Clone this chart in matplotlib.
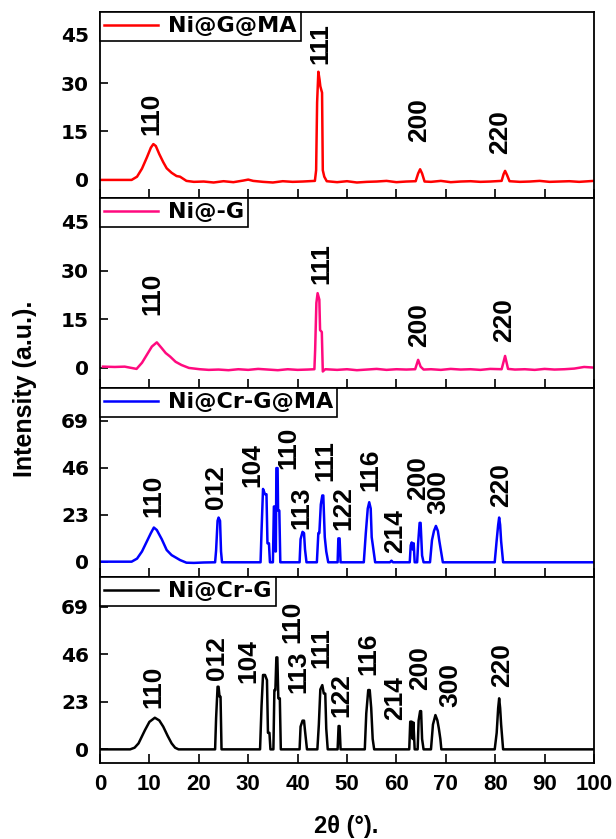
import matplotlib
matplotlib.use("Agg")
import matplotlib.pyplot as plt

# --- XRD traces, (2theta, intensity) vertices ---
ni_g_ma_x = [0.3, 6.4, 7.5, 8.5, 9.5, 10.3, 10.8, 11.3, 12.0, 12.8, 13.5, 14.5, 15.5,
             16.2, 17.5, 19, 21, 23, 25, 27, 29, 30, 31, 33, 35, 37, 39, 41, 43.5,
             43.75, 43.95, 44.2, 44.45, 44.6, 44.95, 45.1, 45.4, 45.9, 48, 50, 52, 54, 56, 58,
             60, 62, 63.9, 64.4, 64.8, 65.2, 65.7, 67, 69, 71, 73, 75, 77, 79, 81.3,
             81.7, 82.0, 82.4, 82.9, 85, 87, 89, 91, 93, 95, 97, 100]
ni_g_ma_y = [0, 0, 1.0, 3.5, 7.0, 10.0, 11.1, 10.5, 8.0, 5.5, 3.6, 2.2, 1.2,
             1.0, -0.3, -0.6, -0.5, -0.8, -0.4, -0.7, -0.2, 0.1, -0.3, -0.6, -0.8, -0.4, -0.6, -0.5, -0.3,
             3.0, 24.0, 33.5, 31.0, 29.0, 27.0, 3.0, 1.0, -0.4, -0.7, -0.4, -0.8, -0.6, -0.5, -0.3,
             -0.7, -0.5, -0.4, 2.0, 3.3, 2.0, -0.5, -0.6, -0.3, -0.7, -0.5, -0.4, -0.6, -0.5, -0.3,
             1.8, 2.8, 1.5, -0.4, -0.6, -0.5, -0.3, -0.6, -0.5, -0.4, -0.6, -0.3]

ni_g_x = [0.6, 3, 5, 7.4, 8.5, 9.5, 10.5, 11.5, 12.5, 13.3, 14.2, 15.3, 16.5, 18.0,
          20.2, 22, 24, 26, 28, 30, 32, 34, 36, 38, 40, 42, 43.4, 43.55, 43.8, 44.05,
          44.4, 44.55, 44.9, 45.1, 45.6, 48, 50, 52, 54, 56, 58, 60, 62, 63.8, 64.4, 64.9,
          65.5, 67, 69, 71, 73, 75, 77, 79, 81.3, 82.0, 82.6, 84, 86, 88, 90, 92, 94,
          96, 98, 100]
ni_g_y = [0.3, 0.2, 0.3, -0.4, 1.5, 4.0, 6.5, 7.8, 6.0, 4.5, 3.4, 1.8, 0.8, -0.1,
          -0.5, -0.7, -0.6, -0.8, -0.5, -0.7, -0.4, -0.6, -0.8, -0.5, -0.7, -0.6, -0.5, 5.4, 20.0, 23.0,
          21.0, 11.6, 11.0, -1.2, -0.5, -0.7, -0.5, -0.8, -0.6, -0.4, -0.7, -0.5, -0.6, -0.5, 2.4, 0.3,
          -0.6, -0.5, -0.7, -0.4, -0.6, -0.5, -0.7, -0.4, -0.5, 3.6, -0.4, -0.6, -0.5, -0.7, -0.4, -0.6,
          -0.5, -0.3, 0.2, 0.0]

ni_cr_g_ma_x = [0.3, 6.4, 7.5, 8.5, 9.5, 10.3, 10.9, 11.5, 12.5, 13.5, 14.5, 15.5, 16.2,
                17.5, 19, 21, 23.3, 23.5, 23.8, 24.0, 24.3, 24.5, 24.7, 32.5, 32.7, 33.0,
                33.4, 33.7, 33.9, 34.2, 34.4, 35.0, 35.2, 35.4, 35.5, 35.6, 35.7, 35.95,
                36.05, 36.3, 36.5, 40.4, 40.6, 41.0, 41.3, 41.5, 41.8, 43.9, 44.2, 44.4,
                44.7, 45.0, 45.2, 45.5, 45.8, 46.2, 48.1, 48.25, 48.5, 48.7, 53.4, 53.8,
                54.2, 54.5, 54.8, 55.0, 55.7, 58.7, 59.0, 59.3, 62.7, 62.9, 63.1, 63.3,
                63.5, 63.7, 64.2, 64.4, 64.7, 64.9, 65.2, 65.5, 66.8, 67.2, 67.6, 68.0,
                68.4, 68.7, 69.4, 79.9, 80.3, 80.6, 80.8, 81.0, 81.2, 81.6, 100]
ni_cr_g_ma_y = [0, 0, 1.5, 5.0, 10.0, 14.0, 16.7, 15.5, 11.0, 5.7, 3.2, 1.8, 0.8,
                -0.5, -0.6, -0.4, -0.3, 5.5, 20.0, 21.6, 20.0, 5.0, -0.3, -0.3, 15.0, 35.6,
                33.0, 33.0, 9.0, 9.0, -0.3, -0.3, 27.0, 27.0, 5.0, 5.0, 45.8, 45.8,
                25.0, 25.0, -0.3, -0.3, 11.0, 14.6, 14.0, 6.0, -0.3, -0.3, 14.0, 14.0,
                28.0, 32.4, 32.4, 12.0, 5.0, -0.3, -0.3, 11.4, 11.4, -0.3, -0.3, 13.8,
                26.0, 29.1, 26.0, 12.0, -0.3, -0.3, 0.5, -0.3, -0.3, 8.0, 9.4, 6.0,
                9.0, -0.3, -0.3, 9.0, 19.0, 19.0, 3.0, -0.3, -0.3, 10.5, 15.0, 17.5,
                15.0, 10.0, -0.3, -0.3, 10.5, 18.0, 21.6, 18.0, 10.0, -0.3, -0.3]

ni_cr_g_x = [0.3, 6.1, 7.0, 7.8, 9.1, 10.0, 11.1, 12.0, 12.8, 13.7, 14.5, 15.2, 15.9,
             23.3, 23.5, 23.8, 24.0, 24.2, 24.4, 24.6, 32.4, 32.7, 33.0, 33.4, 33.8,
             34.0, 34.3, 34.5, 35.1, 35.3, 35.5, 35.7, 35.9, 36.1, 36.4, 36.6, 40.4,
             40.6, 41.0, 41.3, 41.5, 41.9, 44.0, 44.3, 44.6, 45.0, 45.3, 45.6, 45.8,
             46.1, 48.1, 48.3, 48.5, 48.7, 53.6, 53.9, 54.3, 54.6, 54.9, 55.2, 55.5,
             62.6, 62.8, 63.1, 63.3, 63.45, 63.7, 64.3, 64.5, 64.8, 65.0, 65.2, 65.5,
             67.0, 67.4, 67.9, 68.3, 68.6, 68.9, 69.1, 79.9, 80.3, 80.6, 80.8, 81.0,
             81.2, 81.6, 100]
ni_cr_g_y = [0, 0, 0.8, 2.9, 9.3, 13.3, 15.3, 14.0, 11.0, 6.5, 2.9, 0.8, 0,
             0, 15.0, 30.3, 30.3, 25.5, 25.5, 0, 0, 21.0, 36.0, 36.0, 33.5,
             8.0, 8.0, 0, 0, 28.7, 28.7, 44.5, 44.5, 24.7, 24.7, 0, 0,
             11.0, 13.9, 13.9, 9.0, 0, 0, 12.0, 29.0, 31.1, 27.0, 27.0, 10.0,
             0, 0, 11.3, 11.3, 0, 0, 17.4, 28.7, 28.7, 20.0, 5.0, 0,
             0, 13.4, 13.4, 5.0, 13.0, 0, 0, 14.0, 18.5, 18.5, 5.0, 0,
             0, 12.0, 16.6, 14.0, 10.0, 5.0, 0, 0, 8.0, 20.0, 24.7, 20.0,
             12.0, 0, 0]

# --- Miller index annotations: text, x position, y of label base ---
p1_hkl = ["110", "111", "200", "220"]
p1_hkl_x = [10.5, 44.7, 64.7, 81.0]
p1_hkl_y = [13.9, 36.0, 11.8, 8.0]

p2_hkl = ["110", "111", "200", "220"]
p2_hkl_x = [10.7, 44.8, 64.7, 81.8]
p2_hkl_y = [16.3, 25.8, 6.5, 8.0]

p3_hkl = ["110", "012", "104", "110", "113", "111", "122", "116", "214", "200", "300", "220"]
p3_hkl_x = [10.8, 23.5, 30.9, 38.2, 40.8, 45.7, 49.2, 54.7, 59.7, 64.3, 68.5, 81.3]
p3_hkl_y = [21.9, 25.9, 36.4, 45.3, 16.2, 39.7, 15.4, 34.8, 4.1, 30.0, 23.5, 27.0]

p4_hkl = ["110", "012", "104", "110", "113", "111", "122", "116", "214", "200", "300", "220"]
p4_hkl_x = [10.9, 23.7, 30.0, 39.0, 40.2, 44.8, 48.9, 54.3, 59.7, 64.8, 70.9, 81.4]
p4_hkl_y = [19.8, 33.6, 32.0, 51.3, 27.1, 39.2, 15.8, 36.0, 14.2, 28.7, 20.3, 30.0]

p1_ticks = [0, 15, 30, 45]
p2_ticks = [0, 15, 30, 45]
p3_ticks = [0, 23, 46, 69]
p4_ticks = [0, 23, 46, 69]
x_ticks = [0, 10, 20, 30, 40, 50, 60, 70, 80, 90, 100]

panels = [
    dict(x=ni_g_ma_x, y=ni_g_ma_y, color="#ff0000", label="Ni@G@MA",
         hkl=p1_hkl, hx=p1_hkl_x, hy=p1_hkl_y, yticks=p1_ticks,
         ylim=(-5.6, 52.0), rect=(100, 12, 594, 198)),
    dict(x=ni_g_x, y=ni_g_y, color="#ff0a7f", label="Ni@-G",
         hkl=p2_hkl, hx=p2_hkl_x, hy=p2_hkl_y, yticks=p2_ticks,
         ylim=(-6.3, 52.4), rect=(100, 198, 594, 388)),
    dict(x=ni_cr_g_ma_x, y=ni_cr_g_ma_y, color="#0000ff", label="Ni@Cr-G@MA",
         hkl=p3_hkl, hx=p3_hkl_x, hy=p3_hkl_y, yticks=p3_ticks,
         ylim=(-7.5, 85.0), rect=(100, 388, 594, 577)),
    dict(x=ni_cr_g_x, y=ni_cr_g_y, color="#000000", label="Ni@Cr-G",
         hkl=p4_hkl, hx=p4_hkl_x, hy=p4_hkl_y, yticks=p4_ticks,
         ylim=(-6.6, 83.4), rect=(100, 577, 594, 763)),
]

W, H = 616, 839
fig = plt.figure(figsize=(W / 100, H / 100), dpi=100)

for i, p in enumerate(panels):
    x0, y0, x1, y1 = p["rect"]
    ax = fig.add_axes([x0 / W, 1 - y1 / H, (x1 - x0) / W, (y1 - y0) / H])
    ax.plot(p["x"], p["y"], color=p["color"], lw=1.8, label=p["label"])
    ax.set_xlim(0, 100)
    ax.set_ylim(*p["ylim"])
    ax.set_yticks(p["yticks"])
    ax.set_xticks(x_ticks)
    ax.tick_params(axis="y", direction="in", length=5.5, width=1.2, pad=8,
                   labelsize=14.5)
    ax.tick_params(axis="x", direction="in", length=6.5, width=1.2, pad=8)
    for lab in ax.get_yticklabels():
        lab.set_fontfamily("DejaVu Sans")
        lab.set_fontweight("bold")
    if i < 3:
        ax.tick_params(axis="x", labelbottom=False)
    else:
        for lab in ax.get_xticklabels():
            lab.set_fontfamily("Liberation Sans")
            lab.set_fontweight("bold")
            lab.set_fontsize(16)
    for s in ax.spines.values():
        s.set_linewidth(1.3)

    for t, hx, hy in zip(p["hkl"], p["hx"], p["hy"]):
        ax.text(hx, hy, t, rotation=90, ha="center", va="bottom",
                fontsize=19, fontweight="bold",
                family=["Liberation Sans Narrow", "Liberation Sans"])

    leg = ax.legend(loc="upper left", borderaxespad=0, fancybox=False,
                    edgecolor="black", framealpha=1, borderpad=0.2,
                    handlelength=2.4, handletextpad=0.45,
                    prop={"family": "DejaVu Sans", "weight": "bold", "size": 16})
    leg.get_frame().set_linewidth(1.2)
    for h in leg.get_lines():
        h.set_linewidth(1.8)

fig.text(25 / W, 1 - 389 / H, "Intensity (a.u.).", rotation=90, ha="center",
         va="center", fontsize=18, fontweight="bold", family="Liberation Sans")
fig.text(346 / W, 1 - 826 / H, "2θ (°).", ha="center", va="center",
         fontsize=17, fontweight="bold", family="Liberation Sans")

fig.savefig("out.png", dpi=100)
